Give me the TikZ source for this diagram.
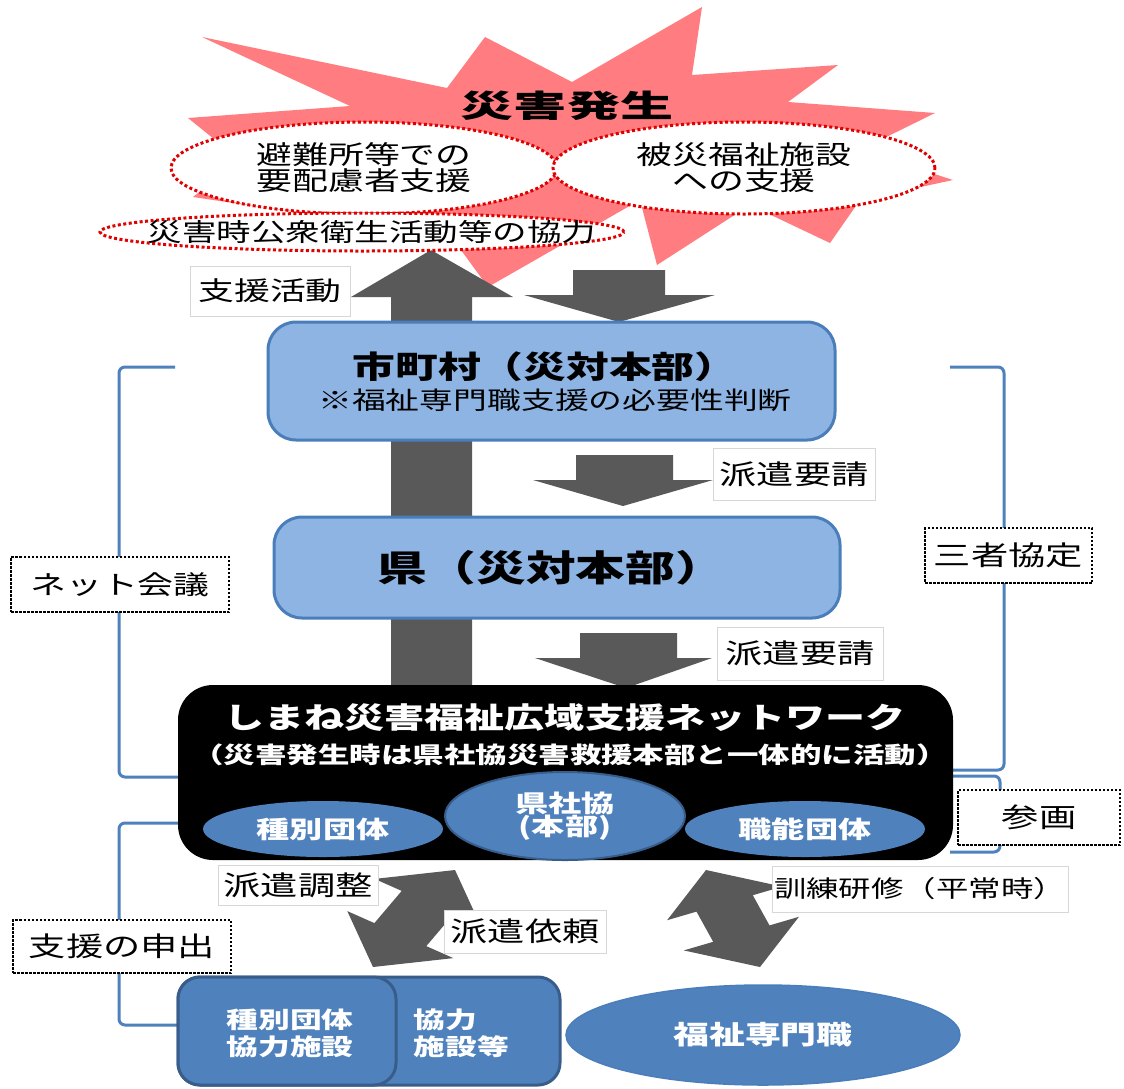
\documentclass[tikz,border=0pt]{standalone}
\usepackage{graphicx}
\usepackage{fontspec}
\setmainfont{Noto Sans CJK JP}[FakeStretch=1.38]
\usetikzlibrary{shapes.geometric}
\definecolor{pinkburst}{RGB}{255,124,128}
\definecolor{reddot}{RGB}{225,0,0}
\definecolor{lightblue}{RGB}{142,180,227}
\definecolor{boxborder}{RGB}{74,126,187}
\definecolor{midblue}{RGB}{79,129,189}
\definecolor{darkblue}{RGB}{56,93,138}
\definecolor{arrowgray}{RGB}{89,89,89}
\definecolor{labelgray}{RGB}{215,215,215}
\begin{document}
\begin{tikzpicture}[x=1pt,y=-1pt,
  fsz/.style={font=\fontsize{#1}{#1}\selectfont},
  bfsz/.style={font=\bfseries\fontsize{#1}{#1}\selectfont},
  redell/.style={ellipse, draw=reddot, fill=white, line width=3, dash pattern=on 3pt off 2.5pt, inner sep=0pt},
  bluebox/.style={rectangle, rounded corners=28, fill=lightblue, draw=boxborder, line width=3, inner sep=0pt},
  blueell/.style={ellipse, fill=midblue, inner sep=0pt, text=white},
  lbl/.style={rectangle, draw=labelgray, fill=white, line width=1, inner sep=0pt},
  dotbox/.style={rectangle, draw=black, fill=white, line width=2.5, dash pattern=on 2.5pt off 1.5pt, inner sep=0pt},
  bracket/.style={draw=midblue, line width=3, rounded corners=6},
  bigarrow/.style={fill=arrowgray},
  bottombox/.style={rectangle, rounded corners=22, fill=midblue, draw=darkblue, line width=3, inner sep=0pt}
]
\useasboundingbox (0,0) rectangle (1124,1088);
\fill[white] (0,0) rectangle (1124,1088);

% starburst
\fill[pinkburst] (202,37) -- (447,88) -- (485,37) -- (572,82) -- (702,7) -- (692,75)
  -- (838,65) -- (788,102) -- (935,113) -- (860,150) -- (953,180) -- (860,200)
  -- (830,243) -- (750,205) -- (657,265) -- (640,200) -- (488,287) -- (450,235)
  -- (193,197) -- (240,160) -- (188,118) -- (350,106) -- cycle;

% vertical block arrows
\fill[bigarrow] (431,250) -- (513,297) -- (472,297) -- (472,700) -- (391,700) -- (391,297) -- (351,297) -- cycle;
\fill[bigarrow] (573,270) -- (665,270) -- (665,295) -- (715,295) -- (619,322) -- (524,295) -- (573,295) -- cycle;
\fill[bigarrow] (576,455) -- (673,455) -- (673,480) -- (713,480) -- (623,506) -- (533,480) -- (576,480) -- cycle;
\fill[bigarrow] (580,633) -- (677,633) -- (677,658) -- (712,658) -- (626,688) -- (535,658) -- (580,658) -- cycle;

% ellipses at top
\node[redell, minimum width=386, minimum height=92, fsz=26, align=center] (evac) at (364,168) {避難所等での\\要配慮者支援};
\node[redell, minimum width=382, minimum height=92, fsz=26, align=center] (fac) at (744,168) {被災福祉施設\\への支援};
\node[redell, minimum width=524, minimum height=38] (pubE) at (362,232) {};
\node[fsz=25] (pub) at (372,232) {災害時公衆衛生活動等の協力};
\node[bfsz=31] (title) at (567,106) {\scalebox{1.24}[1]{災害発生}};

% brackets
\draw[bracket] (175,367) -- (119,367) -- (119,777) -- (182,777);
\draw[bracket] (182,823) -- (119,823) -- (119,1025) -- (182,1025);
\draw[bracket] (950,367) -- (1004,367) -- (1004,770) -- (950,770);
\draw[bracket] (950,776) -- (1000,776) -- (1000,852) -- (950,852);

% boxes
\node[bluebox, minimum width=567, minimum height=118] (muni) at (551.5,381) {};
\node[bfsz=31] (muniT) at (545,367) {市町村（災対本部）};
\node[fsz=24.5] (muniS) at (555,400) {※福祉専門職支援の必要性判断};
\node[bluebox, minimum width=566, minimum height=101] (pref) at (557,567.5) {};
\node[bfsz=36] (prefT) at (551,568) {県（災対本部）};

\node[rectangle, rounded corners=35, fill=black, minimum width=775, minimum height=175] (net) at (565.5,772.5) {};
\node[bfsz=29, text=white] (netT) at (565,718) {しまね災害福祉広域支援ネットワーク};
\node[bfsz=22.8, text=white] (netS) at (570,755) {（災害発生時は県社協災害救援本部と一体的に活動）};
\node[blueell, minimum width=240, minimum height=56, bfsz=24] (shubetsu) at (323,829) {種別団体};
\node[blueell, draw=darkblue, line width=2, minimum width=240, minimum height=88, bfsz=24, align=center] (kenshakyo) at (565,816) {県社協\\[-1pt](本部)};
\node[blueell, minimum width=240, minimum height=56, bfsz=24] (shokuno) at (805,829) {職能団体};

% diagonal double arrows
\fill[bigarrow] (455,870) -- (480.7,925.9) -- (453.6,913.9) -- (426.3,946.1) -- (453.3,958.1)
  -- (373,967) -- (347.3,911.1) -- (374.4,923.1) -- (401.7,890.9) -- (374.7,878.9) -- cycle;
\fill[bigarrow] (706,870) -- (782.2,886.6) -- (752.8,895.2) -- (769.5,925.4) -- (798.9,916.8)
  -- (760,967) -- (683.8,950.4) -- (713.2,941.8) -- (696.5,911.6) -- (667.1,920.2) -- cycle;

% bottom boxes
\node[bottombox, minimum width=382, minimum height=108] (kyoryoku) at (369,1031) {};
\node[bottombox, minimum width=218, minimum height=108] (shubetsuB) at (287,1031) {};
\node[bfsz=23, text=white, align=center] (shubetsuT) at (290,1033) {種別団体\\[4pt]協力施設};
\node[bfsz=23, text=white, align=left, anchor=west] (kyoryokuT) at (410,1033) {協力\\[4pt]施設等};
\node[ellipse, fill=midblue, draw=boxborder, line width=1.5, minimum width=394, minimum height=100, inner sep=0pt, bfsz=26, text=white] (senmon) at (763,1035) {福祉専門職};

% plain labels
\node[lbl, minimum width=160, minimum height=50, fsz=26] (lShien) at (270,291) {支援活動};
\node[lbl, minimum width=162, minimum height=52, fsz=27] (lHaken1) at (794,474) {派遣要請};
\node[lbl, minimum width=166, minimum height=53, fsz=27] (lHaken2) at (800,653.5) {派遣要請};
\node[lbl, minimum width=160, minimum height=40, fsz=27] (lChosei) at (298,885.5) {派遣調整};
\node[lbl, minimum width=162, minimum height=43, fsz=27] (lIrai) at (525,931.5) {派遣依頼};
\node[lbl, minimum width=296, minimum height=46, fsz=23.5] (lKunren) at (920,889) {訓練研修（平常時）};

% dotted labels
\node[dotbox, minimum width=218, minimum height=55, fsz=26] (dNet) at (120,584.5) {ネット会議};
\node[dotbox, minimum width=167, minimum height=55, fsz=27] (dSansha) at (1008.5,555.5) {三者協定};
\node[dotbox, minimum width=162, minimum height=55, fsz=27] (dSankaku) at (1039,817.5) {参画};
\node[dotbox, minimum width=218, minimum height=53, fsz=27] (dMoushide) at (122,946.5) {支援の申出};
\end{tikzpicture}
\end{document}
